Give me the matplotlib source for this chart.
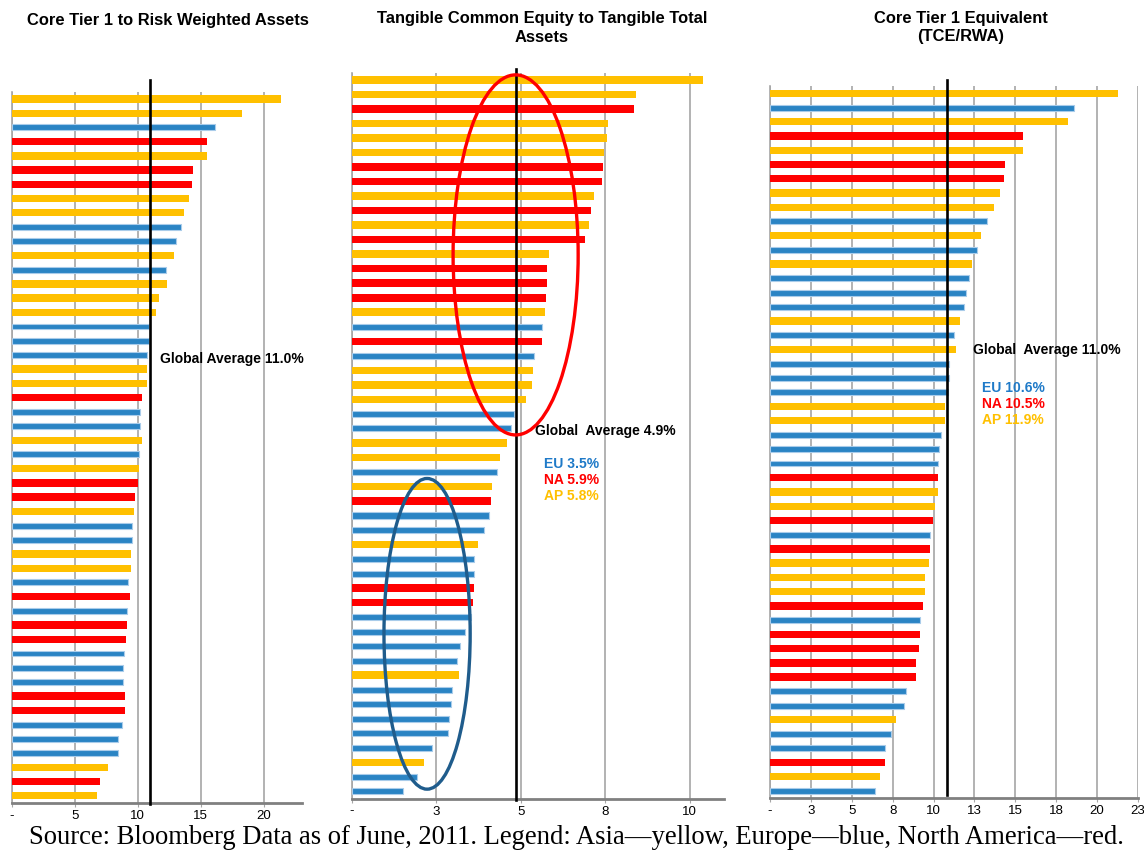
import matplotlib
matplotlib.use("Agg")
import matplotlib.pyplot as plt
from matplotlib.patches import Ellipse

# region codes: A = Asia (yellow), E = Europe (blue), N = North America (red)
ct1_regions = list("AAENANNAAEEAEAAAEEEAANEEAEANNAEEAAENENNEEENNEEEANA")
ct1_values = [21.35, 18.25, 16.1, 15.5, 15.5, 14.35, 14.3, 14.05, 13.65, 13.45,
              13.0, 12.85, 12.2, 12.3, 11.65, 11.45, 10.9, 10.9, 10.75, 10.75,
              10.75, 10.35, 10.15, 10.15, 10.35, 10.1, 10.1, 10.0, 9.75, 9.7,
              9.55, 9.55, 9.45, 9.45, 9.25, 9.35, 9.15, 9.15, 9.05, 8.9,
              8.85, 8.85, 8.95, 8.95, 8.75, 8.45, 8.45, 7.6, 7.0, 6.75]

tce_regions = list("AANAAANNANANANNNAENEAAAEEAAEANEEAEENNEEEEAEEEEEAEE")
tce_values = [10.38, 8.4, 8.35, 7.57, 7.54, 7.45, 7.43, 7.4, 7.16, 7.07,
              7.01, 6.89, 5.83, 5.77, 5.77, 5.74, 5.71, 5.63, 5.62, 5.4,
              5.36, 5.33, 5.15, 4.8, 4.7, 4.59, 4.38, 4.29, 4.14, 4.11,
              4.06, 3.92, 3.73, 3.61, 3.61, 3.61, 3.58, 3.53, 3.34, 3.19,
              3.12, 3.17, 2.96, 2.93, 2.89, 2.85, 2.39, 2.13, 1.92, 1.51]

eq_regions = list("AEANANNAAEAEAEEEAEAEEEAAEEENAANENAAANENNNNEEAEENAE")
eq_values = [21.26, 18.61, 18.21, 15.45, 15.45, 14.35, 14.29, 14.05, 13.68, 13.25,
             12.88, 12.64, 12.33, 12.15, 12.01, 11.84, 11.6, 11.27, 11.36, 10.97,
             10.97, 10.91, 10.7, 10.7, 10.43, 10.34, 10.25, 10.25, 10.25, 10.09,
             9.97, 9.79, 9.79, 9.7, 9.48, 9.48, 9.36, 9.17, 9.17, 9.11,
             8.93, 8.93, 8.3, 8.22, 7.69, 7.42, 7.03, 7.03, 6.73, 6.42]

avg_lines = [11.0, 4.85, 10.8]
ct1_ticks = [0, 5, 10, 15, 20]
ct1_labels = ["-", "5", "10", "15", "20"]
tce_ticks = [0, 2.5, 5, 7.5, 10]
tce_labels = ["-", "3", "5", "8", "10"]
eq_ticks = [0, 2.5, 5, 7.5, 10, 12.5, 15, 17.5, 20, 22.5]
eq_labels = ["-", "3", "5", "8", "10", "13", "15", "18", "20", "23"]

colors = {"A": "#FFC000", "E": "#2A84C4", "N": "#FF0000"}
W, H = 1144, 852

plt.rcParams['font.family'] = ['Liberation Sans', 'DejaVu Sans']
fig = plt.figure(figsize=(W / 100, H / 100), dpi=100)


def px(x, y):
    return x / W, 1 - y / H


def panel(x0, x1, ytop, ybot, xmax, regions, values, ticks, labels, avg, lmin, lmax):
    ax = fig.add_axes([x0 / W, 1 - ybot / H, (x1 - x0) / W, (ybot - ytop) / H])
    for i, (r, v) in enumerate(zip(regions, values)):
        if r == "E":
            ax.barh(i, v, height=0.42, color=colors[r], edgecolor="#A9CCEA",
                    linewidth=0.8, zorder=3)
        else:
            ax.barh(i, v, height=0.52, color=colors[r], linewidth=0, zorder=3)
    ax.set_ylim(len(values) - 0.5, -0.5)
    ax.set_xlim(0, xmax)
    ax.set_xticks(ticks)
    ax.set_xticklabels(labels, fontsize=9.5)
    ax.set_yticks([])
    ax.grid(axis="x", color="#A6A6A6", linewidth=1.2, zorder=0)
    for s in ["top", "right"]:
        ax.spines[s].set_visible(False)
    ax.spines["left"].set_color("#A6A6A6")
    ax.spines["left"].set_linewidth(1.2)
    ax.spines["bottom"].set_color("#808080")
    ax.spines["bottom"].set_linewidth(2)
    ax.tick_params(axis="x", length=3, color="#A6A6A6", pad=2)
    ax.axvline(avg, ymin=lmin, ymax=lmax, color="black", linewidth=1.9,
               clip_on=False, zorder=5)
    return ax


ax1 = panel(11.7, 301.7, 91.9, 802.8, 23.0, ct1_regions, ct1_values,
            ct1_ticks, ct1_labels, avg_lines[0], -0.002, 1.017)
ax2 = panel(351.7, 723.5, 72.7, 798.6, 11.0, tce_regions, tce_values,
            tce_ticks, tce_labels, avg_lines[1], -0.002, 1.005)
ax3 = panel(770, 1138, 86.2, 798.1, 22.5, eq_regions, eq_values,
            eq_ticks, eq_labels, avg_lines[2], 0.004, 1.009)

# highlight ellipses on the TCE panel
ax2.add_patch(Ellipse((4.85, 12.05), 3.7, 24.8, fill=False, edgecolor="#FF0000",
                      linewidth=2.4, zorder=6, clip_on=False))
ax2.add_patch(Ellipse((2.23, 38.15), 2.55, 21.4, fill=False, edgecolor="#1F5C8C",
                      linewidth=2.4, zorder=6, clip_on=False))

# titles
tkw = dict(fontsize=11.9, fontweight="bold", ha="center", va="center")
fig.text(*px(168, 20), "Core Tier 1 to Risk Weighted Assets", **tkw)
fig.text(*px(542, 18), "Tangible Common Equity to Tangible Total", **tkw)
fig.text(*px(542, 37), "Assets", **tkw)
fig.text(*px(961, 19), "Core Tier 1 Equivalent", **tkw)
fig.text(*px(961, 36), "(TCE/RWA)", **tkw)

# averages
akw = dict(fontsize=10, fontweight="bold", va="center")
fig.text(*px(160, 359), "Global Average 11.0%", **akw)
fig.text(*px(535, 431), "Global  Average 4.9%", **akw)
fig.text(*px(544, 464), "EU 3.5%", color="#1F7AC8", **akw)
fig.text(*px(544, 480), "NA 5.9%", color="#FF0000", **akw)
fig.text(*px(544, 496), "AP 5.8%", color="#FFC000", **akw)
fig.text(*px(973, 350), "Global  Average 11.0%", **akw)
fig.text(*px(982, 388), "EU 10.6%", color="#1F7AC8", **akw)
fig.text(*px(982, 404), "NA 10.5%", color="#FF0000", **akw)
fig.text(*px(982, 420), "AP 11.9%", color="#FFC000", **akw)

fig.text(*px(576, 838), "Source: Bloomberg Data as of June, 2011. Legend: "
         "Asia\u2014yellow, Europe\u2014blue, North America\u2014red.",
         fontsize=19.2, family="Liberation Serif", ha="center", va="center")

fig.savefig("out.png", dpi=100)
